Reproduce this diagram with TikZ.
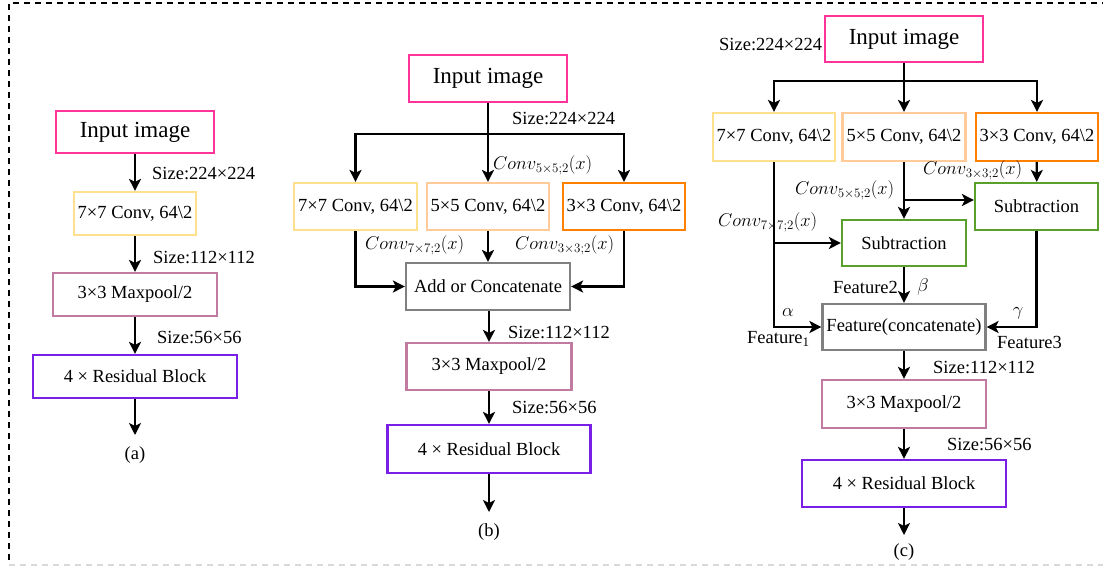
\RequirePackage{fix-cm}
\documentclass[tikz,border=0pt]{standalone}
\usepackage{fontspec}
\setmainfont{Liberation Serif}
\usetikzlibrary{arrows.meta}
\definecolor{pinkc}{HTML}{FF3399}
\definecolor{yelc}{HTML}{FFE08F}
\definecolor{peachc}{HTML}{FFCC99}
\definecolor{orac}{HTML}{FF8000}
\definecolor{grayc}{HTML}{808080}
\definecolor{mauvec}{HTML}{C27BA0}
\definecolor{purc}{HTML}{7A1FE6}
\definecolor{greenc}{HTML}{5AA02C}
\newcommand\fsm{\fontsize{18.5}{22}\selectfont}
\newcommand\fbg{\fontsize{23}{27}\selectfont}
\tikzset{
  box/.style={draw, line width=2.2pt, inner sep=0pt, font=\fsm},
  arr/.style={line width=2.2pt, -{Stealth[length=12pt,width=12pt,inset=3pt]}},
  lbl/.style={font=\fsm, inner sep=0pt, anchor=west},
  clbl/.style={font=\fsm, inner sep=0pt},
}
\begin{document}
\begin{tikzpicture}[x=1pt,y=-1pt]
\useasboundingbox (0,0) rectangle (1103,566);
% border
\draw[line width=1.6pt, dash pattern=on 6pt off 5pt] (9,560) -- (9,3) -- (1103,3);
\draw[black!15, line width=1.6pt, dash pattern=on 6pt off 5pt] (9,565) -- (1103,565);

% ---------------- (a)
\node[box, draw=pinkc, minimum width=158pt, minimum height=42pt, font=\fbg] (ai) at (135,132) {Input image};
\node[box, draw=yelc, minimum width=122pt, minimum height=43pt] (ac) at (135,213.5) {7×7 Conv, 64\textbackslash 2};
\node[box, draw=mauvec, minimum width=164pt, minimum height=43pt] (am) at (135,294.5) {3×3 Maxpool/2};
\node[box, draw=purc, minimum width=204pt, minimum height=43pt] (ar) at (135,376.5) {4 × Residual Block};
\coordinate (aend) at (135,435);
\draw[arr] (ai) -- (ac);
\draw[arr] (ac) -- (am);
\draw[arr] (am) -- (ar);
\draw[arr] (ar) -- (aend);
\node[clbl] (acap) at (135,455) {(a)};
\node[lbl] (as1) at (152,173) {Size:224×224};
\node[lbl] (as2) at (153,257) {Size:112×112};
\node[lbl] (as3) at (157,337) {Size:56×56};

% ---------------- (b)
\node[box, draw=pinkc, minimum width=158pt, minimum height=47pt, font=\fbg] (bi) at (488,78.5) {Input image};
\node[box, draw=yelc, minimum width=123pt, minimum height=47pt] (b7) at (355.5,206.5) {7×7 Conv, 64\textbackslash 2};
\node[box, draw=peachc, minimum width=122pt, minimum height=47pt] (b5) at (488,206.5) {5×5 Conv, 64\textbackslash 2};
\node[box, draw=orac, minimum width=122pt, minimum height=47pt] (b3) at (624,206.5) {3×3 Conv, 64\textbackslash 2};
\node[box, draw=grayc, minimum width=164pt, minimum height=47pt] (ba) at (488,286.5) {Add or Concatenate};
\node[box, draw=mauvec, minimum width=165pt, minimum height=47pt] (bm) at (489,366.5) {3×3 Maxpool/2};
\node[box, draw=purc, minimum width=203pt, minimum height=48pt] (br) at (489,449) {4 × Residual Block};
\coordinate (bj) at (488,134);
\coordinate (bend) at (489,512);
\draw[arr] (bi) -- (b5);
\draw[arr] (bj) -| (b7.north);
\draw[arr] (bj) -| (b3.north);
\draw[arr] (b7.south) |- (ba.west);
\draw[arr] (b3.south) |- (ba.east);
\draw[arr] (b5) -- (ba);
\draw[arr] (ba.south -| bm.north) -- (bm.north);
\draw[arr] (bm) -- (br);
\draw[arr] (br) -- (bend);
\node[clbl] (bcap) at (489,532) {(b)};
\node[lbl] (bs1) at (512,119) {Size:224×224};
\node[lbl] (bc5) at (493,165) {$Conv_{5\times5;2}(x)$};
\node[lbl] (bc7) at (365,245) {$Conv_{7\times7;2}(x)$};
\node[lbl] (bc3) at (515,245) {$Conv_{3\times3;2}(x)$};
\node[lbl] (bs2) at (508,332) {Size:112×112};
\node[lbl] (bs3) at (512,407) {Size:56×56};

% ---------------- (c)
\node[box, draw=pinkc, minimum width=158pt, minimum height=46pt, font=\fbg] (ci) at (904,39) {Input image};
\node[box, draw=yelc, minimum width=122pt, minimum height=48pt] (c7) at (774,137) {7×7 Conv, 64\textbackslash 2};
\node[box, draw=peachc, minimum width=123pt, minimum height=48pt] (c5) at (904,137) {5×5 Conv, 64\textbackslash 2};
\node[box, draw=orac, minimum width=122pt, minimum height=48pt] (c3) at (1037,137) {3×3 Conv, 64\textbackslash 2};
\node[box, draw=greenc, minimum width=123pt, minimum height=47pt] (cs2) at (1036.5,206.5) {Subtraction};
\node[box, draw=greenc, minimum width=124pt, minimum height=46pt] (cs1) at (904,243) {Subtraction};
\node[box, draw=grayc, minimum width=163pt, minimum height=46pt] (cf) at (904,327) {Feature(concatenate)};
\node[box, draw=mauvec, minimum width=164pt, minimum height=48pt] (cm) at (904,404) {3×3 Maxpool/2};
\node[box, draw=purc, minimum width=204pt, minimum height=47pt] (cr) at (904,483.5) {4 × Residual Block};
\coordinate (cj) at (904,81);
\coordinate (k5) at (904,200);
\coordinate (cend) at (904,535);
\draw[arr] (ci) -- (c5);
\draw[arr] (cj) -| (c7.north);
\draw[arr] (cj) -| (c3.north);
\draw[arr] (c3) -- (cs2);
\draw[arr] (c5) -- (cs1);
\draw[arr] (k5) -- (k5 -| cs2.west);
\draw[arr] (c7.south) |- (cf.west);
\draw[arr] (c7.south |- cs1.west) -- (cs1.west);
\draw[arr] (cs2.south) |- (cf.east);
\draw[arr] (cs1) -- (cf);
\draw[arr] (cf) -- (cm);
\draw[arr] (cm) -- (cr);
\draw[arr] (cr) -- (cend);
\node[clbl] (ccap) at (904,552) {(c)};
\node[lbl] (cs0) at (719,45) {Size:224×224};
\node[lbl] (cc3) at (923,170) {$Conv_{3\times3;2}(x)$};
\node[lbl] (cc5) at (795,190) {$Conv_{5\times5;2}(x)$};
\node[lbl] (cc7) at (718,222) {$Conv_{7\times7;2}(x)$};
\node[lbl] (cf2) at (833,287) {Feature2};
\node[clbl] (cbeta) at (923,287) {$\beta$};
\node[clbl] (calpha) at (788,313) {$\alpha$};
\node[lbl] (cf1) at (747,339) {Feature\textsubscript{1}};
\node[clbl] (cgamma) at (1018,313) {$\gamma$};
\node[lbl] (cf3) at (997,342) {Feature3};
\node[lbl] (cs4) at (933,367) {Size:112×112};
\node[lbl] (cs5) at (947,444) {Size:56×56};
\end{tikzpicture}
\end{document}
